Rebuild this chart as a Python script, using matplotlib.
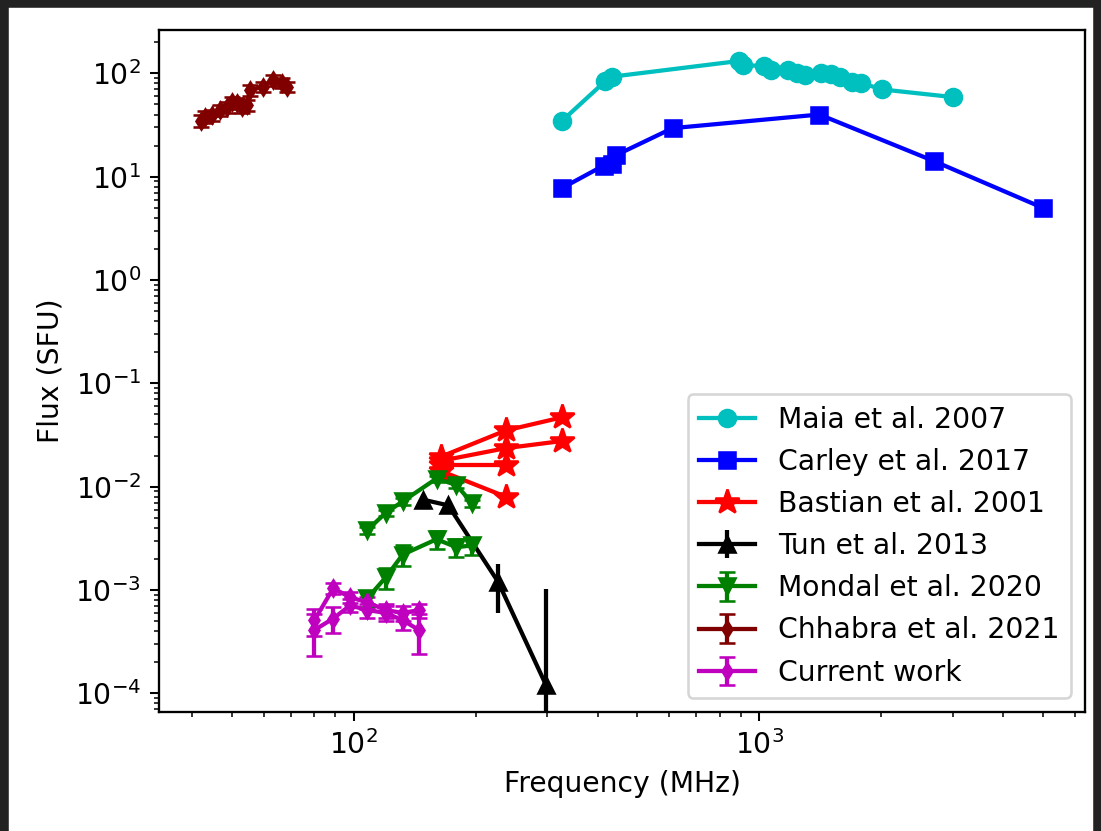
from matplotlib import pyplot as plt
from matplotlib.patches import Rectangle

# Maia et al. 2007
maia_f = [327, 417, 434, 893, 914, 1029, 1071, 1180, 1242, 1299, 1421, 1504, 1584, 1695, 1783, 2004, 2998]
maia_s = [35, 84, 93, 132, 120, 118, 108, 107, 102, 97, 102, 98, 92, 82, 81, 70, 59]

# Carley et al. 2017
carley_f = [327, 413, 434, 444, 611, 1406, 2692, 5000]
carley_s = [7.8, 12.8, 13.2, 16.2, 29.5, 40, 14.2, 5.0]

# Bastian et al. 2001 (cuatro curvas)
bastian_f = [164, 237, 327]
bastian_s1 = [0.0195, 0.035, 0.047]
bastian_s2 = [0.0178, 0.0236, 0.0277]
bastian_f2 = [164, 237]
bastian_s3 = [0.0162, 0.0162]
bastian_s4 = [0.0142, 0.0080]

# Tun et al. 2013
tun_f = [148, 171, 227, 298]
tun_s = [0.0075, 0.0066, 0.0012, 0.00012]
tun_e = [0, 0, 0.0006, 0.0009]

# Mondal et al. 2020 (dos curvas)
mondal_f = [108, 120, 132, 160, 179, 196]
mondal_s1 = [0.0038, 0.0056, 0.0072, 0.0120, 0.0104, 0.0069]
mondal_e1 = [0.0003, 0.0004, 0.0005, 0.0008, 0.0007, 0.0005]
mondal_s2 = [0.00083, 0.00133, 0.0022, 0.0031, 0.0026, 0.0027]
mondal_e2 = [0.00015, 0.0003, 0.0005, 0.0006, 0.0005, 0.0005]

# Chhabra et al. 2021
chh_f = [42, 43, 44.7, 46.8, 48.7, 50.1, 51.6, 53, 54.5, 55.5, 59.7, 63.1, 66.5, 68.4]
chh_s = [35, 38, 39.5, 44, 47, 53, 51.5, 47, 49.5, 69, 74, 86, 81, 74]
chh_e = [5, 5, 5, 5, 6, 6, 6, 6, 6, 8, 8, 10, 9, 8]

# Current work (dos curvas)
cur_f = [80, 89, 98, 108, 120, 132, 145]
cur_s1 = [0.00051, 0.00104, 0.00085, 0.00076, 0.00064, 0.0006, 0.00064]
cur_e1 = [0.00015, 0.00012, 0.0001, 0.0001, 0.0001, 0.0001, 0.0001]
cur_s2 = [0.00041, 0.00053, 0.00071, 0.00064, 0.0006, 0.00051, 0.00041]
cur_e2 = [0.00018, 0.00015, 0.0001, 0.0001, 0.0001, 0.0001, 0.00017]

# todo un poco mas grande que el default
plt.rcParams['font.size'] = 11
plt.rcParams['lines.linewidth'] = 1.65
plt.rcParams['lines.markersize'] = 6.6
plt.rcParams['axes.linewidth'] = 0.9

fig = plt.figure(figsize=(1101 / 185, 831 / 185), dpi=185)
ax = fig.add_axes([159 / 1101, 1 - 712 / 831, 926 / 1101, 682 / 831])

ax.plot(maia_f, maia_s, 'co-', label='Maia et al. 2007')
ax.plot(carley_f, carley_s, 'bs-', label='Carley et al. 2017')
ax.plot(bastian_f, bastian_s1, 'r*-', markersize=10, label='Bastian et al. 2001')
ax.plot(bastian_f, bastian_s2, 'r*-', markersize=10)
ax.plot(bastian_f2, bastian_s3, 'r*-', markersize=10)
ax.plot(bastian_f2, bastian_s4, 'r*-', markersize=10)
ax.errorbar(tun_f, tun_s, yerr=tun_e, fmt='k^-', label='Tun et al. 2013')
ax.errorbar(mondal_f, mondal_s1, yerr=mondal_e1, fmt='gv-', capsize=3, label='Mondal et al. 2020')
ax.errorbar(mondal_f, mondal_s2, yerr=mondal_e2, fmt='gv-', capsize=3)
ax.errorbar(chh_f, chh_s, yerr=chh_e, fmt='d-', color='maroon', markersize=4.5, capsize=3,
            label='Chhabra et al. 2021')
ax.errorbar(cur_f, cur_s1, yerr=cur_e1, fmt='md-', markersize=4.5, capsize=3, label='Current work')
ax.errorbar(cur_f, cur_s2, yerr=cur_e2, fmt='md-', markersize=4.5, capsize=3)

ax.set_xscale('log')
ax.set_yscale('log')
ax.set_xlim(33.1, 6355)
ax.set_ylim(6.6e-5, 263)
ax.set_xlabel('Frequency (MHz)')
ax.set_ylabel('Flux (SFU)')
ax.legend(loc='lower right')

# marco oscuro de la captura
for r in [(0, 1 - 6 / 831, 1, 6 / 831), (0, 0, 7 / 1101, 1), (1 - 7 / 1101, 0, 7 / 1101, 1)]:
    fig.patches.append(Rectangle(r[:2], r[2], r[3], transform=fig.transFigure,
                                 color='#222222', zorder=10))

fig.savefig('out.png', dpi=185)
